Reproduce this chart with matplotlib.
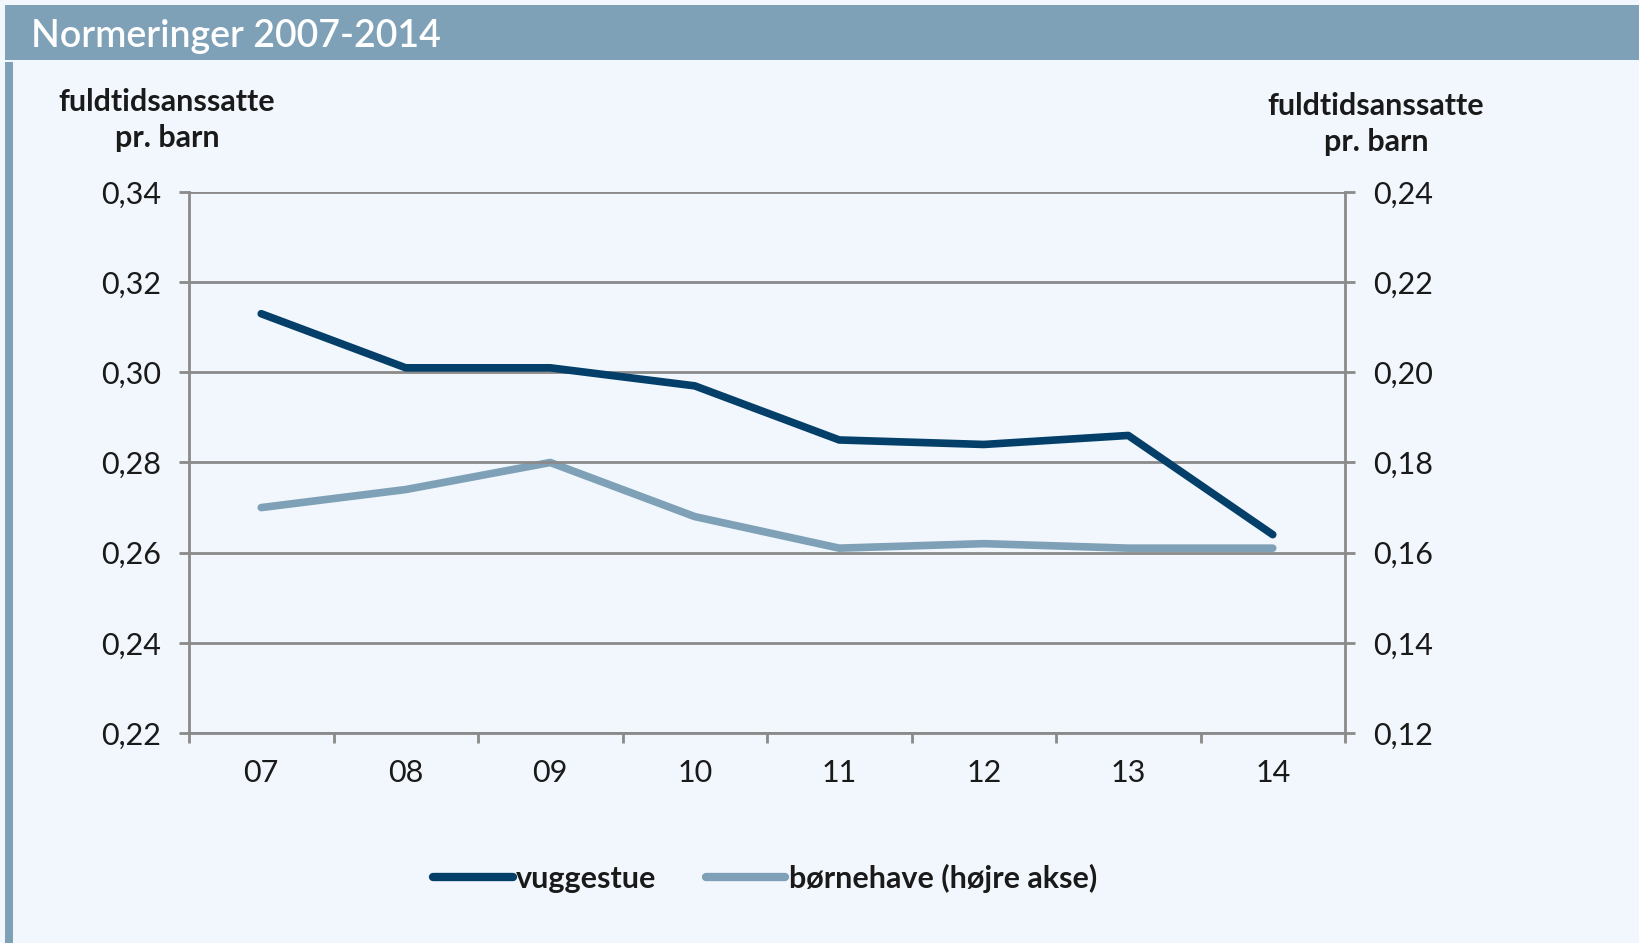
import matplotlib
matplotlib.use("Agg")
import matplotlib.pyplot as plt
from matplotlib.lines import Line2D
from matplotlib.patches import Rectangle
import numpy as np

years = ["07", "08", "09", "10", "11", "12", "13", "14"]
vuggestue = [0.313, 0.301, 0.301, 0.297, 0.285, 0.284, 0.286, 0.264]
boernehave = [0.170, 0.174, 0.180, 0.168, 0.161, 0.162, 0.161, 0.161]
left_ticks = [0.22, 0.24, 0.26, 0.28, 0.30, 0.32, 0.34]
right_ticks = [0.12, 0.14, 0.16, 0.18, 0.20, 0.22, 0.24]

BG = "#f1f7fc"
BANNER = "#7ea1b7"
DARK = "#033f69"
LIGHT = "#7ea1b7"
GRID = "#8a8a8a"
TXT = "#1a1a1a"

plt.rcParams['font.family'] = ['Lato', 'DejaVu Sans']

fig = plt.figure(figsize=(16.39, 9.43), dpi=100)
fig.patch.set_facecolor(BG)

# banner and left strip
fig.add_artist(Rectangle((5/1639, 1-60/943), 1, 55/943, transform=fig.transFigure,
                         facecolor=BANNER, edgecolor='none', zorder=0))
fig.add_artist(Rectangle((5/1639, 0), 8/1639, 1-62/943, transform=fig.transFigure,
                         facecolor=BANNER, edgecolor='none', zorder=0))
fig.text(0.019, 1-37/943, "Normeringer 2007-2014", color="white", fontsize=27,
         ha="left", va="center", fontweight="semibold")

ax = fig.add_axes([189/1639, 1-733/943, (1345-189)/1639, (733-192)/943])
x = np.arange(len(years))
ax.set_xlim(-0.5, len(years)-0.5)
ax.set_ylim(left_ticks[0], left_ticks[-1])
ax.set_yticks(left_ticks)
ax.set_yticklabels([f"{t:.2f}".replace(".", ",") for t in left_ticks])
ax.set_xticks(x)
ax.set_xticklabels(years)
ax.set_xticks(np.arange(-0.5, len(years)), minor=True)
ax.tick_params(axis='x', which='major', length=0, pad=19, labelsize=22, labelcolor=TXT)
ax.tick_params(axis='x', which='minor', length=7, width=2, color=GRID, direction='out')
ax.tick_params(axis='y', length=7, width=2, color=GRID, pad=13, labelsize=22, labelcolor=TXT)
ax.grid(axis='y', color=GRID, linewidth=2.0, zorder=1)
ax.set_axisbelow(True)
for s in ['left', 'right', 'bottom']:
    ax.spines[s].set_color(GRID)
    ax.spines[s].set_linewidth(2.0)
ax.spines['top'].set_visible(False)

ax2 = ax.twinx()
ax2.set_ylim(right_ticks[0], right_ticks[-1])
ax2.set_yticks(right_ticks)
ax2.set_yticklabels([f"{t:.2f}".replace(".", ",") for t in right_ticks])
ax2.tick_params(axis='y', length=7, width=2, color=GRID, pad=13, labelsize=22, labelcolor=TXT)
for s in ['left', 'right', 'bottom', 'top']:
    ax2.spines[s].set_visible(False)

ax2.plot(x, boernehave, color=LIGHT, linewidth=5.5, solid_capstyle='round', zorder=3)
ax.plot(x, vuggestue, color=DARK, linewidth=5.5, solid_capstyle='round', zorder=4)
ax.set_zorder(ax2.get_zorder() + 1)
ax.patch.set_visible(False)
ax2.patch.set_visible(True)
ax2.patch.set_facecolor(BG)

fig.text(167/1639, 1-120/943, "fuldtidsanssatte\npr. barn", ha="center", va="center",
         fontsize=22, fontweight="bold", color=TXT, linespacing=1.38)
fig.text(1376/1639, 1-124/943, "fuldtidsanssatte\npr. barn", ha="center", va="center",
         fontsize=22, fontweight="bold", color=TXT, linespacing=1.38)

handles = [Line2D([], [], color=DARK, linewidth=6, solid_capstyle='round'),
           Line2D([], [], color=LIGHT, linewidth=6, solid_capstyle='round')]
fig.legend(handles, ["vuggestue", "børnehave (højre akse)"], loc="center",
           bbox_to_anchor=(765/1639, 1-878/943), ncol=2, frameon=False,
           prop={'size': 22, 'weight': 'bold'}, handlelength=2.6, handletextpad=0.12,
           columnspacing=1.6, labelcolor=TXT)

fig.savefig("out.png", dpi=100, facecolor=BG)
